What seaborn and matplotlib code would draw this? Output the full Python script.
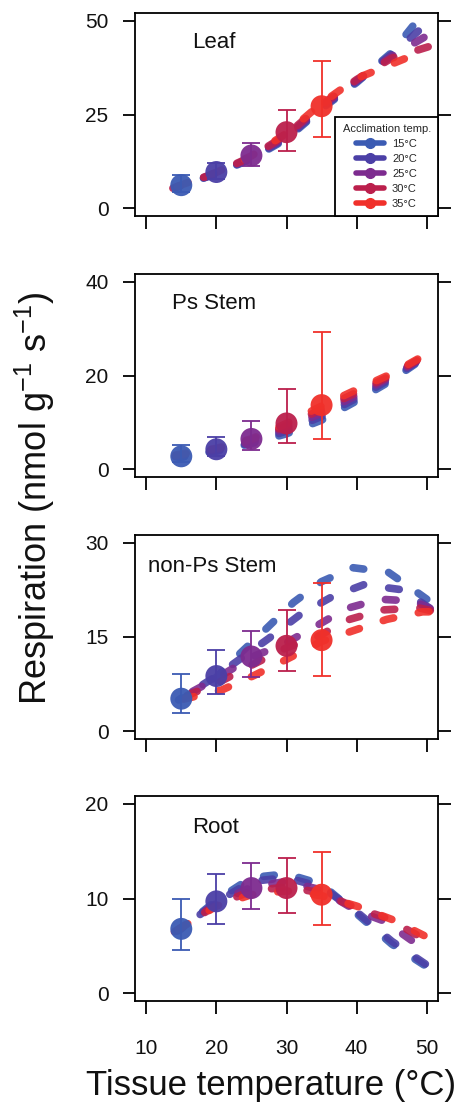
import numpy as np
import pandas as pd
import matplotlib
matplotlib.use("Agg")
import matplotlib.pyplot as plt
import seaborn as sns
from matplotlib.lines import Line2D

# ---------------- data ----------------
acclim_labels = ["15°C", "20°C", "25°C", "30°C", "35°C"]
acclim_temps = [15, 20, 25, 30, 35]
colors = ["#3b5bb3", "#4b3fa6", "#7d2b8f", "#bb1f4c", "#f0302a"]

panel_names = ["Leaf", "Ps Stem", "non-Ps Stem", "Root"]
panel_yticks = [[0, 25, 50], [0, 20, 40], [0, 15, 30], [0, 10, 20]]

# response curves (tissue temperature, respiration) per acclimation temp
leaf_x = [[15, 20, 25, 30, 35, 40, 45, 48.0],
          [14.6, 20, 25, 30, 35, 40, 45, 48.8],
          [14.2, 20, 25, 30, 35, 40, 45, 49.6],
          [13.8, 20, 25, 30, 35, 40, 45, 50.2],
          [13.4, 20, 25, 30, 35, 40, 46.8]]
leaf_y = [[6.0, 9.3, 13.2, 18.5, 26.5, 33.5, 41.5, 48.5],
          [5.8, 9.3, 13.4, 18.8, 26.8, 33.8, 41.0, 47.2],
          [5.6, 9.4, 13.6, 19.2, 27.2, 34.0, 40.5, 45.5],
          [5.4, 9.5, 13.8, 19.6, 27.6, 34.3, 40.0, 43.0],
          [5.2, 9.6, 14.0, 20.0, 28.0, 34.6, 39.8]]

ps_x = [[15, 20, 25, 30, 35, 40, 45, 48.3],
        [14.6, 20, 25, 30, 35, 40, 45, 48.4],
        [14.2, 20, 25, 30, 35, 40, 45, 48.5],
        [13.8, 20, 25, 30, 35, 40, 45, 48.6],
        [13.4, 20, 25, 30, 35, 40, 45, 48.7]]
ps_y = [[2.6, 3.9, 5.5, 7.6, 10.5, 14.6, 19.0, 22.4],
        [2.6, 4.0, 5.7, 8.2, 11.3, 15.2, 19.4, 22.7],
        [2.7, 4.2, 6.0, 8.8, 12.0, 15.8, 19.8, 23.0],
        [2.8, 4.3, 6.3, 9.3, 12.8, 16.4, 20.1, 23.2],
        [2.9, 4.5, 6.5, 9.8, 13.5, 17.0, 20.4, 23.5]]

nps_x = [[15, 20, 23, 27, 31, 35, 39.5, 44.5, 49, 50],
         [14.6, 20, 24, 27.5, 32, 36.5, 41, 46.5, 50.4],
         [14.2, 20, 25, 29.5, 33.7, 38.5, 43.3, 48.2, 50.5],
         [13.8, 20, 25, 30, 34.3, 39, 43.7, 49, 50.5],
         [13.4, 20.8, 25.4, 30.1, 35, 39.5, 44.3, 49.4, 50.3]]
nps_y = [[5.0, 8.6, 12.0, 16.2, 20.5, 23.8, 26.0, 25.3, 21.8, 21.0],
         [5.0, 8.8, 12.0, 14.8, 18.6, 21.4, 23.3, 22.5, 19.6],
         [4.9, 8.4, 11.8, 13.8, 16.4, 19.5, 21.0, 20.7, 19.5],
         [4.8, 7.6, 10.5, 13.3, 15.0, 17.8, 19.3, 19.6, 19.2],
         [4.6, 6.6, 8.9, 11.5, 14.3, 16.0, 17.8, 19.0, 19.0]]

root_x = [[15, 20, 25, 30, 35, 40, 45, 49.6],
          [14.6, 20, 25, 30, 35, 40, 45, 49.8],
          [14.2, 20, 25, 30, 35, 40, 44, 47.8],
          [13.8, 20, 25, 30, 35, 40, 44, 48.5],
          [13.4, 20, 25, 30, 35, 40, 45, 49.6]]
root_y = [[6.8, 9.8, 12.2, 12.6, 11.5, 8.4, 5.2, 3.0],
          [6.6, 9.6, 11.8, 12.2, 11.2, 8.6, 5.5, 3.1],
          [6.5, 9.5, 11.2, 11.8, 10.9, 8.7, 7.6, 5.6],
          [6.4, 9.3, 10.8, 11.2, 10.6, 9.0, 8.0, 6.2],
          [6.2, 9.2, 10.4, 10.8, 10.3, 9.2, 7.8, 6.1]]

# measurements at the acclimation temperature (mean, lower err, upper err)
leaf_mean = [6.2, 9.7, 14.1, 20.3, 27.2]
leaf_lo = [1.8, 1.8, 2.8, 4.9, 8.2]
leaf_hi = [2.8, 2.4, 3.3, 5.8, 11.9]
ps_mean = [2.8, 4.3, 6.5, 9.8, 13.7]
ps_lo = [1.3, 1.5, 2.4, 4.2, 7.3]
ps_hi = [2.5, 2.7, 3.8, 7.4, 15.6]
nps_mean = [5.2, 8.8, 11.9, 13.6, 14.5]
nps_lo = [2.2, 2.9, 3.3, 4.0, 5.7]
nps_hi = [4.0, 4.2, 4.0, 5.7, 9.1]
root_mean = [6.8, 9.7, 11.1, 11.1, 10.4]
root_lo = [2.2, 2.4, 2.2, 2.6, 3.2]
root_hi = [3.2, 2.9, 2.6, 3.2, 4.5]

x_ticks = [10, 20, 30, 40, 50]

# ---------------- assemble tables ----------------
curves_x = [leaf_x, ps_x, nps_x, root_x]
curves_y = [leaf_y, ps_y, nps_y, root_y]
means = [leaf_mean, ps_mean, nps_mean, root_mean]
lows = [leaf_lo, ps_lo, nps_lo, root_lo]
highs = [leaf_hi, ps_hi, nps_hi, root_hi]
palette = dict(zip(acclim_labels, colors))

# ---------------- style ----------------
sns.set_theme(style="white")
plt.rcParams["font.family"] = ["Liberation Sans", "DejaVu Sans"]
plt.rcParams["mathtext.fontset"] = "custom"
plt.rcParams["mathtext.rm"] = "Liberation Sans"
plt.rcParams["axes.edgecolor"] = "black"

W, H = 467, 1105
DPI = 100
fig = plt.figure(figsize=(W / DPI, H / DPI), dpi=DPI)

left_px, right_px = 135, 438
panel_tb = [(13, 216), (274, 477), (535, 739), (796, 1001)]
label_pos = [(0.19, 0.83), (0.122, 0.83), (0.043, 0.82), (0.188, 0.82)]

LW = 5.5
DASH_ON, DASH_OFF = 1.4, 3.3

for i in range(4):
    top, bot = panel_tb[i]
    ax = fig.add_axes([left_px / W, 1 - bot / H, (right_px - left_px) / W, (bot - top) / H])
    ymax = panel_yticks[i][-1]
    ax.set_ylim(-0.04 * ymax, 1.04 * ymax)
    ax.set_xlim(8.4, 51.6)

    rows = []
    for k, lab in enumerate(acclim_labels):
        for xv, yv in zip(curves_x[i][k], curves_y[i][k]):
            rows.append({"T": xv, "R": yv, "acclim": lab})
    df = pd.DataFrame(rows)
    n_before = len(ax.lines)
    sns.lineplot(data=df, x="T", y="R", hue="acclim", palette=palette,
                 hue_order=acclim_labels, estimator=None, sort=False,
                 linewidth=LW, linestyle=(0, (DASH_ON, DASH_OFF)), dash_capstyle="round",
                 alpha=0.9, legend=False, ax=ax, zorder=2)
    ax.set_ylim(-0.04 * ymax, 1.04 * ymax)
    ax.set_xlim(8.4, 51.6)
    # anchor each dash pattern at the curve's end so a dash closes every curve
    for ln in ax.lines[n_before:]:
        xy = ax.transData.transform(np.column_stack(ln.get_data()))
        length_pt = np.sum(np.hypot(*np.diff(xy, axis=0).T)) * 72 / DPI
        L = length_pt / LW
        P = DASH_ON + DASH_OFF
        off = (DASH_ON - L) % P
        ln.set_linestyle((off, (DASH_ON, DASH_OFF)))

    pts = pd.DataFrame({"T": acclim_temps, "R": means[i], "acclim": acclim_labels})
    for k in range(5):
        ax.errorbar(acclim_temps[k], means[i][k],
                    yerr=[[lows[i][k]], [highs[i][k]]], fmt="none",
                    ecolor=colors[k], elinewidth=1.3, capsize=6.5, capthick=1.3,
                    zorder=3)
    sns.scatterplot(data=pts, x="T", y="R", hue="acclim", palette=palette,
                    hue_order=acclim_labels, s=250, edgecolor="none",
                    alpha=0.95, legend=False, ax=ax, zorder=4)

    ax.set_ylim(-0.04 * ymax, 1.04 * ymax)
    ax.set_xlim(8.4, 51.6)
    ax.set_yticks(panel_yticks[i])
    ax.set_xticks(x_ticks)
    ax.set_xlabel("")
    ax.set_ylabel("")
    for sp in ax.spines.values():
        sp.set_visible(True)
        sp.set_linewidth(1.3)
        sp.set_color("black")
    ax.tick_params(axis="y", which="both", left=True, right=True, direction="out",
                   length=9, width=1.3, labelsize=15, pad=10, colors="black",
                   labelcolor="#111111")
    ax.tick_params(axis="x", which="both", bottom=True, top=False, direction="out",
                   length=9, width=1.3, labelsize=15, pad=18, colors="black",
                   labelcolor="#111111", labelbottom=(i == 3))
    ax.text(label_pos[i][0], label_pos[i][1], panel_names[i], transform=ax.transAxes,
            fontsize=16, va="baseline", ha="left", color="#111111")

    if i == 0:
        handles = [Line2D([], [], color=c, lw=4, marker="o", markersize=7,
                          solid_capstyle="round") for c in colors]
        leg = ax.legend(handles, acclim_labels, title="Acclimation temp.",
                        loc="lower right", bbox_to_anchor=(1, 0), borderaxespad=0,
                        frameon=True, fancybox=False, framealpha=1, edgecolor="black",
                        fontsize=8, title_fontsize=8, handlelength=2.5,
                        handletextpad=0.7, labelspacing=0.45, borderpad=0.65)
        leg.get_frame().set_linewidth(1.3)

fig.text(35 / W, 1 - 498 / H, r"Respiration (nmol g$^{\mathregular{-1}}$ s$^{\mathregular{-1}}$)",
         rotation=90, ha="center", va="center", fontsize=26, color="#111111")
fig.text(271 / W, 1 - 1095 / H, "Tissue temperature (°C)", ha="center", va="baseline",
         fontsize=25, color="#111111")

fig.savefig("out.png", dpi=DPI)
